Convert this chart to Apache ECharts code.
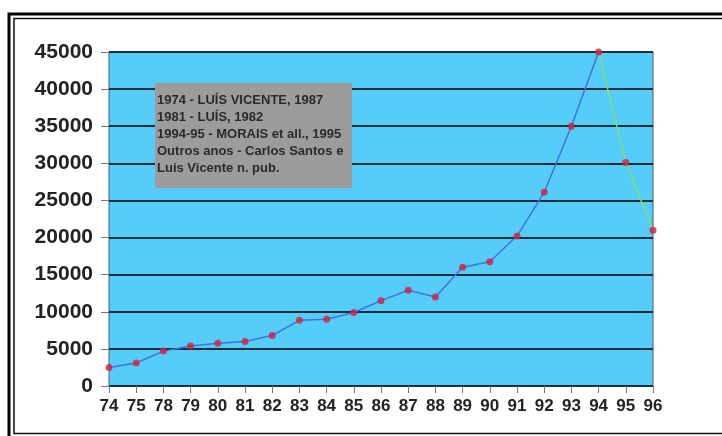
<!DOCTYPE html>
<html><head><meta charset="utf-8">
<script src="https://cdn.jsdelivr.net/npm/echarts@6/dist/echarts.min.js"></script>
<style>html,body{margin:0;padding:0;background:#fff}#c{width:722px;height:436px}</style>
</head><body><div id="c"></div>
<script>
var categories = ['74','75','78','79','80','81','82','83','84','85','86','87','88','89','90','91','92','93','94','95','96'];
var values = [2500,3100,4700,5400,5750,6000,6800,8850,9000,9900,11500,12900,12000,16000,16750,20200,26100,35000,45000,30100,21000];
var yTicks = [0,5000,10000,15000,20000,25000,30000,35000,40000,45000];
var splitIndex = 18; // '94' — after this the line is green
var noteLines = ['1974 - LUÍS VICENTE, 1987','1981 - LUÍS, 1982','1994-95 - MORAIS et all., 1995','Outros anos - Carlos Santos e','Luis Vicente n. pub.'];

var blueData = values.map(function(v,i){return i<=splitIndex? v : null;});
var greenData = values.map(function(v,i){return i>=splitIndex? v : null;});

var chart = echarts.init(document.getElementById('c'));
chart.setOption({
  animation:false,
  backgroundColor:'#ffffff',
  grid:{left:109,right:69,top:52,bottom:50,show:true,backgroundColor:'#56ccf9',borderColor:'#4a5a66',borderWidth:1},
  xAxis:{type:'category',data:categories,boundaryGap:false,
    axisLine:{show:false},
    axisTick:{show:true,length:7,lineStyle:{color:'#777'}},
    axisLabel:{margin:12,fontFamily:'Liberation Sans',fontWeight:'bold',fontSize:17,color:'#222'},
    splitLine:{show:false}},
  yAxis:{type:'value',min:yTicks[0],max:yTicks[yTicks.length-1],interval:5000,
    axisLine:{show:false},
    axisTick:{show:true,length:8,lineStyle:{color:'#777'}},
    axisLabel:{margin:16,fontFamily:'Liberation Sans',fontWeight:'bold',fontSize:21,color:'#222',
      formatter:function(v){return String(v);}},
    splitLine:{show:true,lineStyle:{color:'#1a2e3a',width:1.8}}},
  series:[
    {type:'line',data:blueData,symbol:'none',connectNulls:false,lineStyle:{color:'#3f74dc',width:1.5},z:3},
    {type:'line',data:greenData,symbol:'none',connectNulls:false,lineStyle:{color:'#7ee07a',width:1.5},z:3},
    {type:'scatter',data:values,symbol:'circle',symbolSize:7,itemStyle:{color:'#d41f3c'},z:5}
  ],
  graphic:[
    {type:'rect',shape:{x:9,y:14,width:800,height:440},style:{fill:'none',stroke:'#000',lineWidth:3},z:10},
    {type:'rect',shape:{x:14,y:18.5,width:800,height:415},style:{fill:'none',stroke:'#111',lineWidth:1.5},z:10},
    {type:'rect',shape:{x:155,y:83,width:197,height:105},style:{fill:'#9c9c9a'},z:20},
    {type:'text',x:157,y:92,style:{text:noteLines.join('\n'),fill:'#2a2a2a',font:'bold 13px "Liberation Sans"',lineHeight:17,verticalAlign:'top'},z:21}
  ]
});
</script></body></html>
